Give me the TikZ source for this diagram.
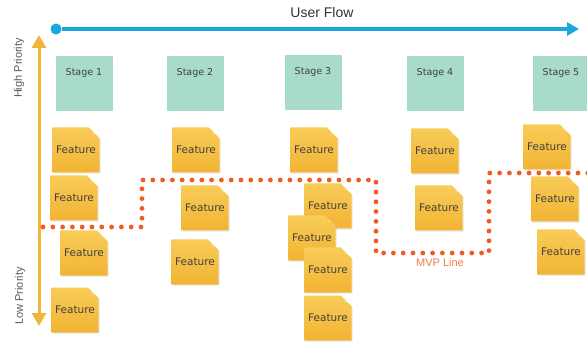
\documentclass[tikz,border=0pt]{standalone}
\usepackage{fontspec}
\setmainfont{Liberation Sans}
\newfontfamily\notefont{DejaVu Sans}
\usetikzlibrary{arrows.meta,positioning,calc,shadows,shapes.misc}
\definecolor{flowblue}{HTML}{1BA6E0}
\definecolor{prioorange}{HTML}{F3B43A}
\definecolor{mvpred}{HTML}{F15A22}
\definecolor{mvptext}{HTML}{F37A4E}
\definecolor{stagegreen}{HTML}{A8DCC9}
\definecolor{notelight}{HTML}{F8CC58}
\definecolor{notedeep}{HTML}{F2B433}
\definecolor{foldyellow}{HTML}{FBDA86}

\begin{document}
\begin{tikzpicture}[x=1pt,y=-1pt,>=Stealth,
 stage/.style={fill=stagegreen,minimum width=57pt,minimum height=55pt,inner sep=0pt,
  text height=19pt,text depth=36pt,font=\notefont\fontsize{9.5}{11}\selectfont,text=black!75},
 feat/.style={chamfered rectangle,chamfered rectangle corners=north east,chamfered rectangle sep=7pt,
  minimum width=45pt,minimum height=45pt,inner sep=0pt,
  top color=notelight,bottom color=notedeep,
  drop shadow={opacity=0.18,shadow xshift=1pt,shadow yshift=-1.2pt},
  font=\notefont\fontsize{10.5}{12}\selectfont,text=black!75,
  path picture={\fill[foldyellow] ($(path picture bounding box.north east)+(-7pt,0pt)$) -- ++(0pt,-7pt) -- ++(7pt,0pt) -- cycle;}},
 axislabel/.style={font=\fontsize{11}{13}\selectfont,text=black!65}]
\useasboundingbox (0,0) rectangle (587,342);
\clip (0,0) rectangle (587,342);
% user flow axis
\node[font=\fontsize{14}{16}\selectfont,text=black!80] (flowtitle) at (322,12) {User Flow};
\node[circle,fill=flowblue,minimum size=11pt,inner sep=0pt] (flowdot) at (56,29) {};
\coordinate (flowend) at (579,29);
\draw[->,flowblue,line width=3.5pt,arrows={-Triangle[width=13pt,length=12pt]}] (flowdot) -- (flowend);
% priority axis
\coordinate (hightip) at (39,35);
\coordinate (lowtip) at (39,326);
\draw[prioorange,line width=3pt,arrows={Triangle[width=14pt,length=13pt]-Triangle[width=14pt,length=13pt]}] (hightip) -- (lowtip);
\node[axislabel,rotate=90] (high) at (19,68) {High Priority};
\node[axislabel,rotate=90] (low) at (20,296) {Low Priority};
% stages
\node[stage] (s1) at (84,84) {Stage 1};
\node[stage] (s2) at (195,84) {Stage 2};
\node[stage] (s3) at (313,83) {Stage 3};
\node[stage] (s4) at (435,84) {Stage 4};
\node[stage] (s5) at (561,84) {Stage 5};
% features
\node[feat] (f1) at (76,150) {Feature};
\node[feat] (f2) at (74,198) {Feature};
\node[feat] (f3) at (84,253) {Feature};
\node[feat] (f4) at (75,310) {Feature};
\node[feat] (f5) at (196,150) {Feature};
\node[feat] (f6) at (205,208) {Feature};
\node[feat] (f7) at (195,262) {Feature};
\node[feat] (f8) at (314,150) {Feature};
\node[feat] (f9) at (328,206) {Feature};
\node[feat] (f10) at (312,238) {Feature};
\node[feat] (f11) at (328,270) {Feature};
\node[feat] (f12) at (328,318) {Feature};
\node[feat] (f13) at (435,151) {Feature};
\node[feat] (f14) at (439,208) {Feature};
\node[feat] (f15) at (547,147) {Feature};
\node[feat] (f16) at (555,199) {Feature};
\node[feat] (f17) at (561,252) {Feature};
% mvp line
\draw[mvpred,line width=4.8pt,line cap=round,dash pattern=on 0pt off 9.8pt]
 (43,227) -- (142,227) -- (142,180) -- (376,180) -- (376,253) -- (489,253) -- (489,173) -- (592,173);
\node[text=mvptext,font=\fontsize{11}{13}\selectfont] (mvp) at (440,263) {MVP Line};
\end{tikzpicture}
\end{document}
